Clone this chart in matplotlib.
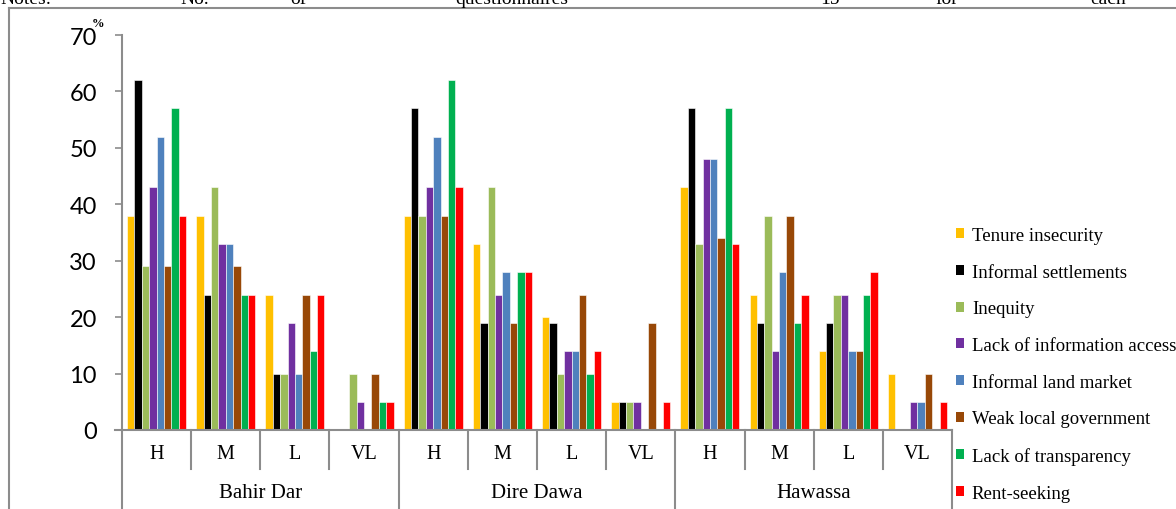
import matplotlib
matplotlib.use("Agg")
import matplotlib.pyplot as plt
from matplotlib.patches import Patch
from matplotlib.lines import Line2D
import numpy as np

# Survey results: share of respondents (%) per problem, by severity level and city
cities = ["Bahir Dar", "Dire Dawa", "Hawassa"]
levels = ["H", "M", "L", "VL"]

series_names = [
    "Tenure insecurity",
    "Informal settlements",
    "Inequity",
    "Lack of information access",
    "Informal land market",
    "Weak local government",
    "Lack of transparency",
    "Rent-seeking",
]

tenure_insecurity = [38, 38, 24, 0, 38, 33, 20, 5, 43, 24, 14, 10]
informal_settlements = [62, 24, 10, 0, 57, 19, 19, 5, 57, 19, 19, 0]
inequity = [29, 43, 10, 10, 38, 43, 10, 5, 33, 38, 24, 0]
lack_info_access = [43, 33, 19, 5, 43, 24, 14, 5, 48, 14, 24, 5]
informal_land_market = [52, 33, 10, 0, 52, 28, 14, 0, 48, 28, 14, 5]
weak_local_government = [29, 29, 24, 10, 38, 19, 24, 19, 34, 38, 14, 10]
lack_transparency = [57, 24, 14, 5, 62, 28, 10, 0, 57, 19, 24, 0]
rent_seeking = [38, 24, 24, 5, 43, 28, 14, 5, 33, 24, 28, 5]

series_values = [
    tenure_insecurity, informal_settlements, inequity, lack_info_access,
    informal_land_market, weak_local_government, lack_transparency, rent_seeking,
]
colors = ["#FFC000", "#000000", "#9BBB59", "#7030A0",
          "#4F81BD", "#984807", "#00B050", "#FF0000"]

serif = "Liberation Serif"
sans = "Lato"
grey = "#8c8c8c"

W, H = 1176, 510
fig = plt.figure(figsize=(W / 100, H / 100), dpi=100)

def fx(px):
    return px / W

def fy(py):
    return 1 - py / H

ax_left, ax_right, ax_top, ax_bottom = 122, 952, 36, 431
ax = fig.add_axes([fx(ax_left), fy(ax_bottom), fx(ax_right - ax_left),
                   (ax_bottom - ax_top) / H])

n_cat = len(cities) * len(levels)
x = np.arange(n_cat)
group_w = 0.855
bar_w = group_w / len(series_names)
for j, (vals, col) in enumerate(zip(series_values, colors)):
    ax.bar(x + (j - (len(series_names) - 1) / 2) * bar_w, vals, width=bar_w,
           color=col, edgecolor="white", linewidth=0.4, zorder=2)

ax.set_xlim(-0.5, n_cat - 0.5)
ax.set_ylim(0, 70)
ax.set_yticks(range(0, 71, 10))
ax.tick_params(axis="y", length=5, width=1.2, color=grey, pad=13,
               labelsize=17)
for lab in ax.get_yticklabels():
    lab.set_fontfamily(sans)
ax.set_xticks([])
for s in ["top", "right"]:
    ax.spines[s].set_visible(False)
for s in ["left", "bottom"]:
    ax.spines[s].set_color(grey)
    ax.spines[s].set_linewidth(1.5)
ax.spines["bottom"].set_bounds(-0.5 - 7 / 69.2, n_cat - 0.5)

# Hierarchical category axis: level dividers and city dividers
span = ax_bottom - ax_top
y_level = -(470 - ax_bottom) / span
y_city = -(H - ax_bottom) / span
tr = ax.get_xaxis_transform()
for k in range(n_cat + 1):
    xb = k - 0.5
    bottom = y_city if k % len(levels) == 0 else y_level
    ax.add_line(Line2D([xb, xb], [0, bottom], transform=tr, color=grey,
                       lw=1.5, clip_on=False))
for i in range(n_cat):
    ax.text(i, -(455 - ax_bottom) / span, levels[i % len(levels)],
            transform=tr, ha="center", va="center", fontsize=14.5,
            family=serif)
for c, name in enumerate(cities):
    ax.text(c * len(levels) + (len(levels) - 1) / 2, -(494 - ax_bottom) / span,
            name, transform=tr, ha="center", va="center", fontsize=15,
            family=serif)

# Unit marker next to the top tick
fig.text(fx(98), fy(24), "%", fontsize=9, family=serif, fontweight="bold",
         ha="center", va="center")

# Legend
handles = [Patch(facecolor=c, edgecolor="none") for c in colors]
fig.legend(handles, series_names, loc="upper left",
           bbox_to_anchor=(fx(956), fy(228)), frameon=False,
           prop={"family": serif, "size": 13.5}, handlelength=0.45,
           handleheight=0.45, handletextpad=0.4, labelspacing=1.05,
           borderaxespad=0, borderpad=0)

# Surrounding frame
fig.add_artist(Line2D([fx(9), fx(9)], [fy(9), 0], transform=fig.transFigure,
                      color=grey, lw=1.5))
fig.add_artist(Line2D([fx(9), 1], [fy(9), fy(9)], transform=fig.transFigure,
                      color=grey, lw=1.5))

# Running text line above the figure (partially cut off)
note_words = ["Notes:", "No.", "of", "questionnaires", "15", "for", "each"]
note_x = [0, 180, 290, 455, 820, 935, 1090]
for word, px in zip(note_words, note_x):
    fig.text(fx(px), fy(4), word, fontsize=14, family=serif, ha="left",
             va="baseline")

fig.savefig("out.png", dpi=100)
